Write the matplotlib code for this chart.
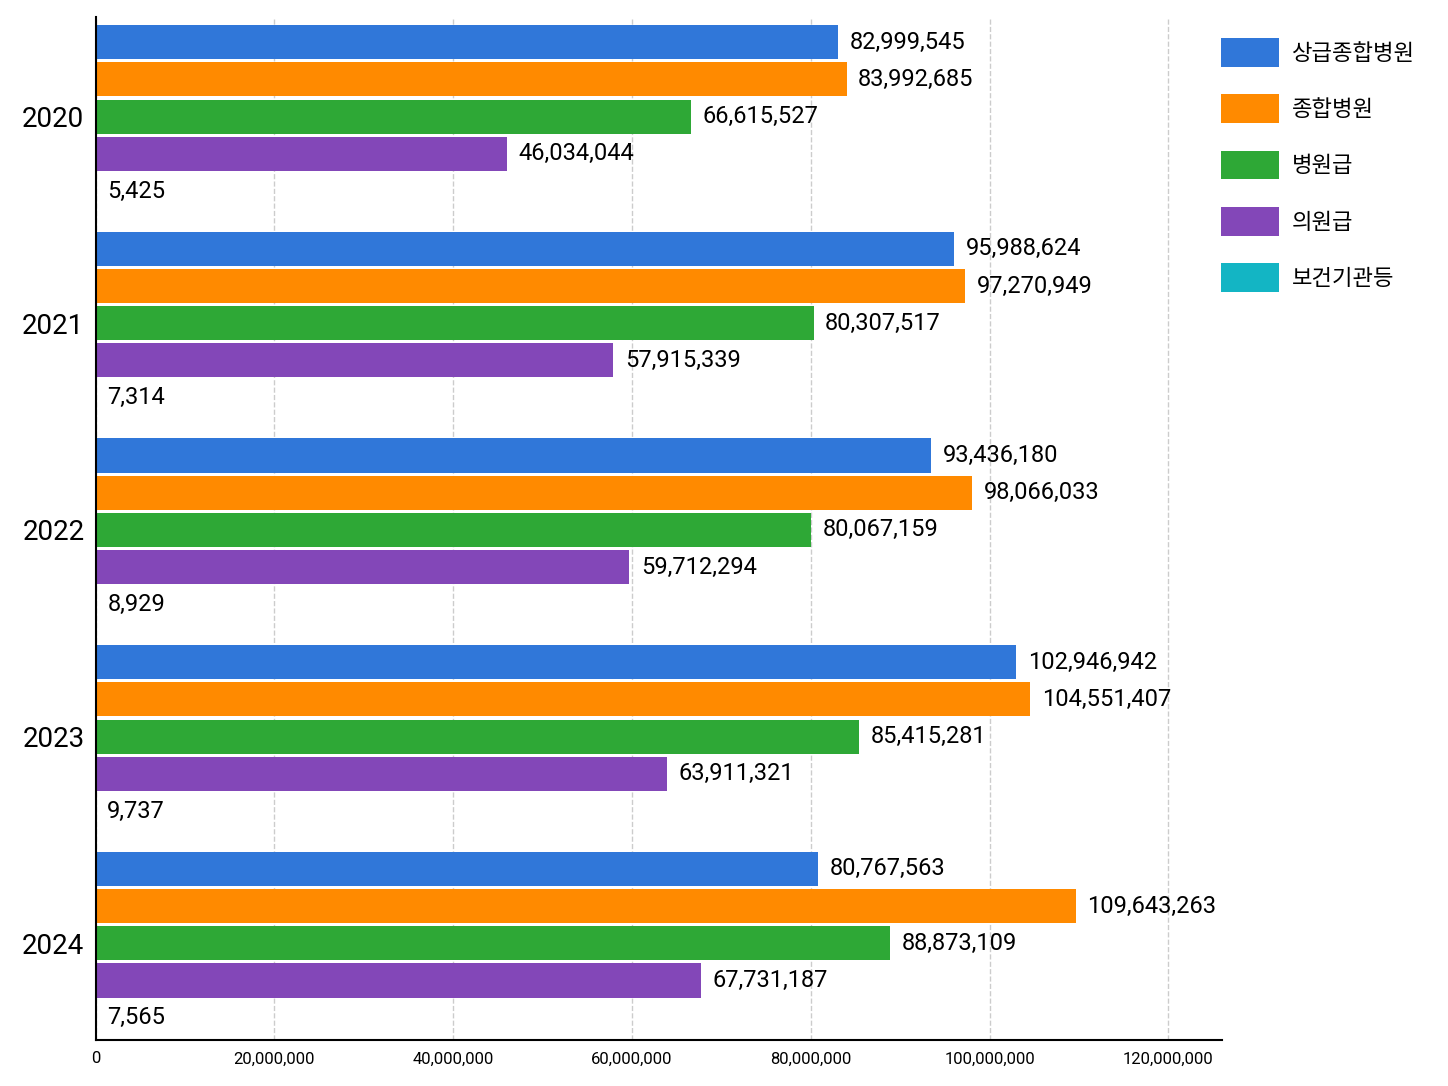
import matplotlib
matplotlib.use("Agg")
import matplotlib.pyplot as plt
import numpy as np

plt.rcParams['font.family'] = ['Roboto', 'Noto Sans CJK KR', 'DejaVu Sans']

years = ["2020", "2021", "2022", "2023", "2024"]
series = ["상급종합병원", "종합병원", "병원급", "의원급", "보건기관등"]
colors = ["#3077D9", "#FF8A00", "#2EA836", "#8347B8", "#13B5C4"]
tertiary = [82999545, 95988624, 93436180, 102946942, 80767563]
general = [83992685, 97270949, 98066033, 104551407, 109643263]
hospital = [66615527, 80307517, 80067159, 85415281, 88873109]
clinic = [46034044, 57915339, 59712294, 63911321, 67731187]
health = [5425, 7314, 8929, 9737, 7565]
values = [tertiary, general, hospital, clinic, health]

fig = plt.figure(figsize=(14.48, 10.86), dpi=100)
ax = fig.add_axes([0.066, 0.042, 0.778, 0.942])

n = len(series)
step = 0.18
h = 0.165
y0 = np.arange(len(years))
for i, (name, vals, c) in enumerate(zip(series, values, colors)):
    ys = y0 + (i - (n - 1) / 2) * step
    ax.barh(ys, vals, height=h, color=c, label=name)
    for y, v in zip(ys, vals):
        ax.text(v + 1.3e6, y, f"{v:,}", va="center", ha="left", fontsize=17)

ax.set_ylim(len(years) - 0.5 - 0.03, -0.48)
ax.set_xlim(0, 126e6)
ax.set_yticks(y0)
ax.set_yticklabels(years, fontsize=20)
ticks = np.arange(0, 120e6 + 1, 20e6)
ax.set_xticks(ticks)
ax.set_xticklabels([f"{int(t):,}" for t in ticks], fontsize=12)
ax.tick_params(length=0, pad=8)
ax.grid(axis="x", ls="--", color="#cccccc", lw=1)
ax.set_axisbelow(True)
for s in ["top", "right"]:
    ax.spines[s].set_visible(False)
ax.spines["left"].set_linewidth(1.5)
ax.spines["bottom"].set_linewidth(1.5)

ax.legend(loc="upper left", bbox_to_anchor=(0.985, 0.995), frameon=False,
          fontsize=16, handlelength=2.6, handleheight=1.6, labelspacing=1.25,
          borderaxespad=0.3, handletextpad=0.6)

fig.savefig("out.png", dpi=100, facecolor="white")
